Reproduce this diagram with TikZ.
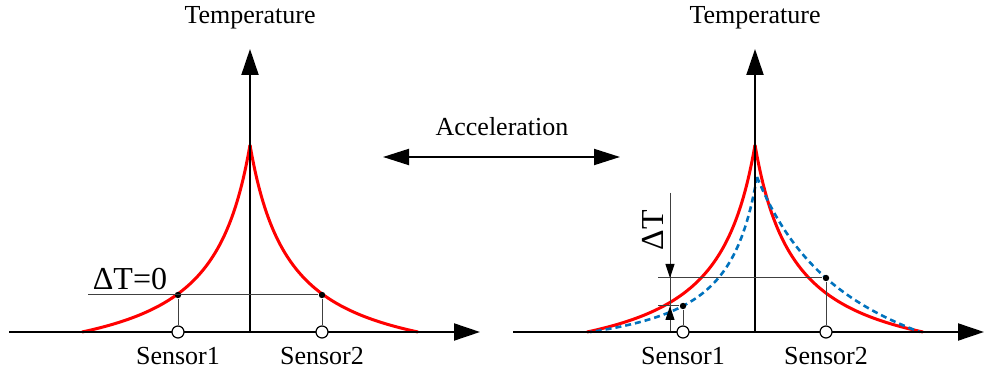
\documentclass[tikz,border=0pt]{standalone}
\usepackage{fontspec}
\setmainfont{Liberation Serif}
\usetikzlibrary{arrows.meta}
\definecolor{mblue}{RGB}{0,114,189}

\begin{document}
\begin{tikzpicture}[
    x=0.5pt, y=-0.5pt,
    font=\fontsize{13}{15}\selectfont,
    axis/.style={line width=1pt, -{Triangle[length=13pt, width=8.5pt]}},
    accel/.style={line width=1pt, {Triangle[length=13pt, width=8pt]}-{Triangle[length=13pt, width=8pt]}},
    guide/.style={line width=0.5pt, draw=black!75},
    dim/.style={line width=0.5pt, draw=black!75, -{Triangle[length=7pt, width=4.5pt, black]}},
    redcurve/.style={line width=1.5pt, draw=red},
    bluecurve/.style={line width=1.3pt, draw=mblue, dash pattern=on 3pt off 2pt},
    sensor/.style={circle, draw, fill=white, line width=0.6pt, minimum size=6pt, inner sep=0pt},
    probe/.style={circle, fill=black, minimum size=3.2pt, inner sep=0pt},
    lbl/.style={inner sep=0pt},
    big/.style={inner sep=0pt, font=\fontsize{16}{18}\selectfont}
]
\useasboundingbox (0,0) rectangle (984,378);

% Curves
\draw[redcurve] plot[domain=0:168, samples=100] ({250-\x}, {332-187*(40/(40+\x)-40/208)/(1-40/208)});
\draw[redcurve] plot[domain=0:168, samples=100] ({250+\x}, {332-187*(40/(40+\x)-40/208)/(1-40/208)});
\draw[redcurve] plot[domain=0:168, samples=100] ({755-\x}, {332-187*(40/(40+\x)-40/208)/(1-40/208)});
\draw[redcurve] plot[domain=0:168, samples=100] ({755+\x}, {332-187*(40/(40+\x)-40/208)/(1-40/208)});
\draw[bluecurve] plot[domain=0:167, samples=100] ({757-\x}, {332-155*(32/(32+\x)-32/199)/(1-32/199)});
\draw[bluecurve] plot[domain=0:163, samples=100] ({757+\x}, {332-155*(105/(105+\x)-105/268)/(1-105/268)});

% Axes
\coordinate (xl0) at (9,332);
\coordinate (xl1) at (480,332);
\coordinate (yl0) at (250,332);
\coordinate (yl1) at (250,49);
\coordinate (xr0) at (513,332);
\coordinate (xr1) at (984,332);
\coordinate (yr0) at (755,332);
\coordinate (yr1) at (755,49);
\draw[axis] (xl0) -- (xl1);
\draw[axis] (yl0) -- (yl1);
\draw[axis] (xr0) -- (xr1);
\draw[axis] (yr0) -- (yr1);

\node[lbl] (templ) at (250,18) {Temperature};
\node[lbl] (tempr) at (755,18) {Temperature};

% Acceleration
\coordinate (accl) at (383,157);
\coordinate (accr) at (620,157);
\draw[accel] (accl) -- (accr);
\node[lbl] (acc) at (502,127) {Acceleration};

% Left panel
\coordinate (gl) at (88,295);
\node[probe] (p1) at (178,295) {};
\node[probe] (p2) at (322,295) {};
\draw[guide] (gl) -- (p2);
\node[sensor] (s1) at (178,332) {};
\node[sensor] (s2) at (322,332) {};
\draw[guide] (p1) -- (s1);
\draw[guide] (p2) -- (s2);
\node[lbl] at (178,356) (n1) {Sensor1};
\node[lbl] at (322,356) (n2) {Sensor2};
\node[big] (dt0) at (130,279) {ΔT=0};

% Right panel
\coordinate (gr1) at (658,278);
\coordinate (gr2) at (658,306);
\node[probe] (q1) at (683,306) {};
\node[probe] (q2) at (826,278) {};
\draw[guide] (gr1) -- (q2);
\draw[guide] (gr2) -- (q1);
\node[sensor] (t1) at (683,332) {};
\node[sensor] (t2) at (826,332) {};
\draw[guide] (q1) -- (t1);
\draw[guide] (q2) -- (t2);
\node[lbl] at (683,356) (m1) {Sensor1};
\node[lbl] at (826,356) (m2) {Sensor2};

% Delta T dimension
\coordinate (d0) at (670,193);
\coordinate (d1) at (670,278);
\coordinate (d2) at (670,306);
\coordinate (d3) at (670,331);
\draw[guide] (d0) -- (d3);
\draw[dim] (d0) -- (d1);
\draw[dim] (d3) -- (d2);
\node[big, rotate=90] (dt) at (653,230) {ΔT};

\end{tikzpicture}
\end{document}
